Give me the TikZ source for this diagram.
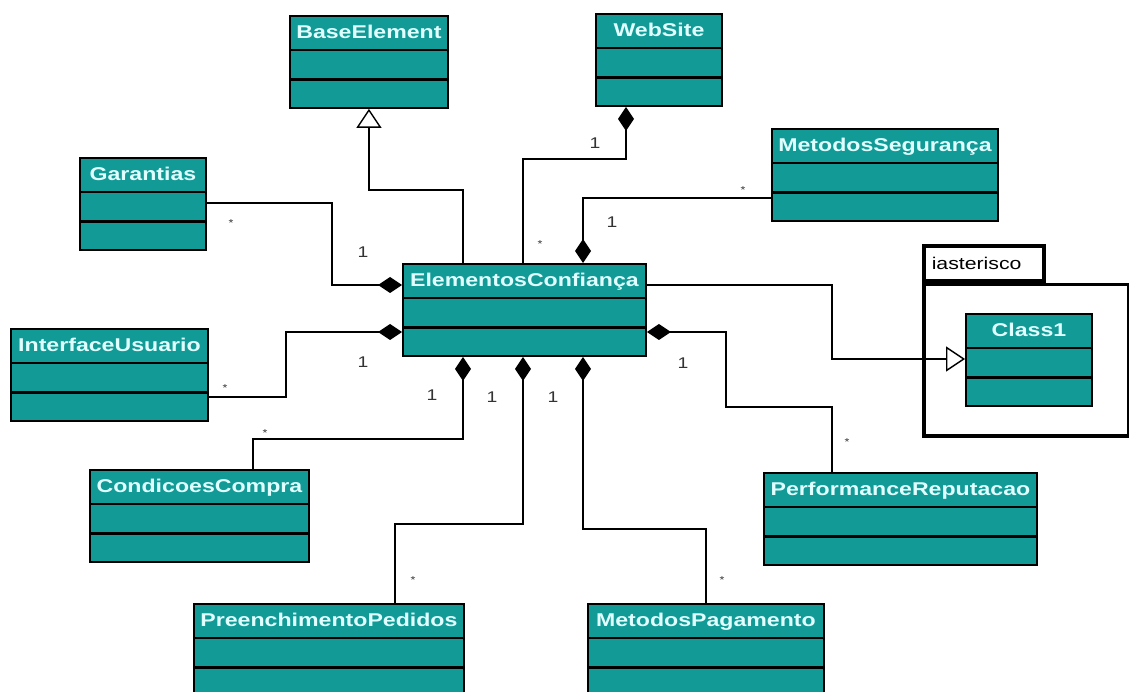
\documentclass[tikz,border=0pt]{standalone}
\usepackage{fontspec}
\usetikzlibrary{arrows.meta}
\newfontfamily\umlfont{Liberation Sans}[FakeStretch=1.25]
\definecolor{classteal}{RGB}{18,154,151}
\definecolor{classtext}{RGB}{224,255,255}
\tikzset{>=Stealth}

\begin{document}
\begin{tikzpicture}[x=1pt,y=-1pt,
  umlclass/.style={draw=black, line width=1.9pt, fill=classteal, text=classtext,
    font=\umlfont\bfseries\fontsize{18.5pt}{20pt}\selectfont,
    inner sep=0pt, text height=23pt, text depth=69pt, anchor=north west,
    path picture={\draw[black,line width=2.4pt]
      ([yshift=-34pt]path picture bounding box.north west) -- ([yshift=-34pt]path picture bounding box.north east)
      ([yshift=-63.5pt]path picture bounding box.north west) -- ([yshift=-63.5pt]path picture bounding box.north east);}},
  compose/.style={draw=black, line width=1.8pt, -{Diamond[length=24pt,width=16pt]}},
  inherit/.style={draw=black, line width=1.8pt, -{Triangle[open,length=19pt,width=25pt,fill=white,line width=1.4pt]}},
  onelbl/.style={font=\umlfont\fontsize{15.5pt}{16pt}\selectfont, text=black!80},
  manylbl/.style={font=\umlfont\fontsize{10pt}{10pt}\selectfont, text=black!80}]
\useasboundingbox (0,0) rectangle (1129,692);

% package
\node[draw, line width=3.5pt, fill=white, inner sep=0pt, minimum width=205pt, minimum height=151pt, anchor=north west] (pkg) at (922,283) {};
\node[draw, line width=3.5pt, fill=white, inner xsep=8pt, inner ysep=0pt, text width=104pt, minimum height=35pt, anchor=south west, align=left,
  font=\umlfont\fontsize{17pt}{18pt}\selectfont] (pkgtab) at (pkg.north west) {iasterisco};

% classes
\node[umlclass, minimum width=158pt] (base) at (289,15) {BaseElement};
\node[umlclass, minimum width=126pt] (site) at (595,13) {WebSite};
\node[umlclass, minimum width=226pt] (seg) at (771,128) {MetodosSegurança};
\node[umlclass, minimum width=126pt] (gar) at (79,157) {Garantias};
\node[umlclass, minimum width=243pt] (conf) at (402,263) {ElementosConfiança};
\node[umlclass, minimum width=197pt] (iface) at (10,328) {InterfaceUsuario};
\node[umlclass, minimum width=126pt] (cls) at (965,313) {Class1};
\node[umlclass, minimum width=219pt] (cond) at (89,469) {CondicoesCompra};
\node[umlclass, minimum width=273pt] (perf) at (763,472) {PerformanceReputacao};
\node[umlclass, minimum width=270pt] (pedidos) at (193,603) {PreenchimentoPedidos};
\node[umlclass, minimum width=236pt] (pag) at (587,603) {MetodosPagamento};

% connectors
\draw[inherit] ([xshift=61pt]conf.north west) -- ++(0,-73) -| (base.south);
\draw[compose] ([xshift=121pt]conf.north west) -- ++(0,-104) -| ([xshift=31pt]site.south west);
\draw[compose] ([yshift=-70pt]seg.north west) -| ([xshift=181pt]conf.north west);
\draw[compose] ([yshift=-46pt]gar.north east) -- ++(125,0) |- ([yshift=-22pt]conf.north west);
\draw[compose] ([yshift=-69pt]iface.north east) -- ++(77,0) |- ([yshift=-69pt]conf.north west);
\draw[compose] ([xshift=164pt]cond.north west) -- ++(0,-30) -| ([xshift=61pt]conf.south west);
\draw[compose] ([xshift=202pt]pedidos.north west) -- ++(0,-79) -| ([xshift=121pt]conf.south west);
\draw[compose] ([xshift=119pt]pag.north west) -- ++(0,-74) -| ([xshift=181pt]conf.south west);
\draw[compose] ([xshift=69pt]perf.north west) -- ++(0,-65) -- ++(-106,0) |- ([yshift=-69pt]conf.north east);
\draw[inherit] ([yshift=-22pt]conf.north east) -- ++(185,0) |- ([yshift=-46pt]cls.north west);

% multiplicities
\node[onelbl] (m1) at (595,143) {1};
\node[onelbl] (m2) at (612,222) {1};
\node[onelbl] (m3) at (363,252) {1};
\node[onelbl] (m4) at (363,362) {1};
\node[onelbl] (m5) at (432,395) {1};
\node[onelbl] (m6) at (492,397) {1};
\node[onelbl] (m7) at (553,397) {1};
\node[onelbl] (m8) at (683,363) {1};

\node[manylbl] (s1) at (540,244) {*};
\node[manylbl] (s2) at (743,190) {*};
\node[manylbl] (s3) at (231,223) {*};
\node[manylbl] (s4) at (225,388) {*};
\node[manylbl] (s5) at (265,433) {*};
\node[manylbl] (s6) at (413,580) {*};
\node[manylbl] (s7) at (722,580) {*};
\node[manylbl] (s8) at (847,442) {*};
\end{tikzpicture}
\end{document}
